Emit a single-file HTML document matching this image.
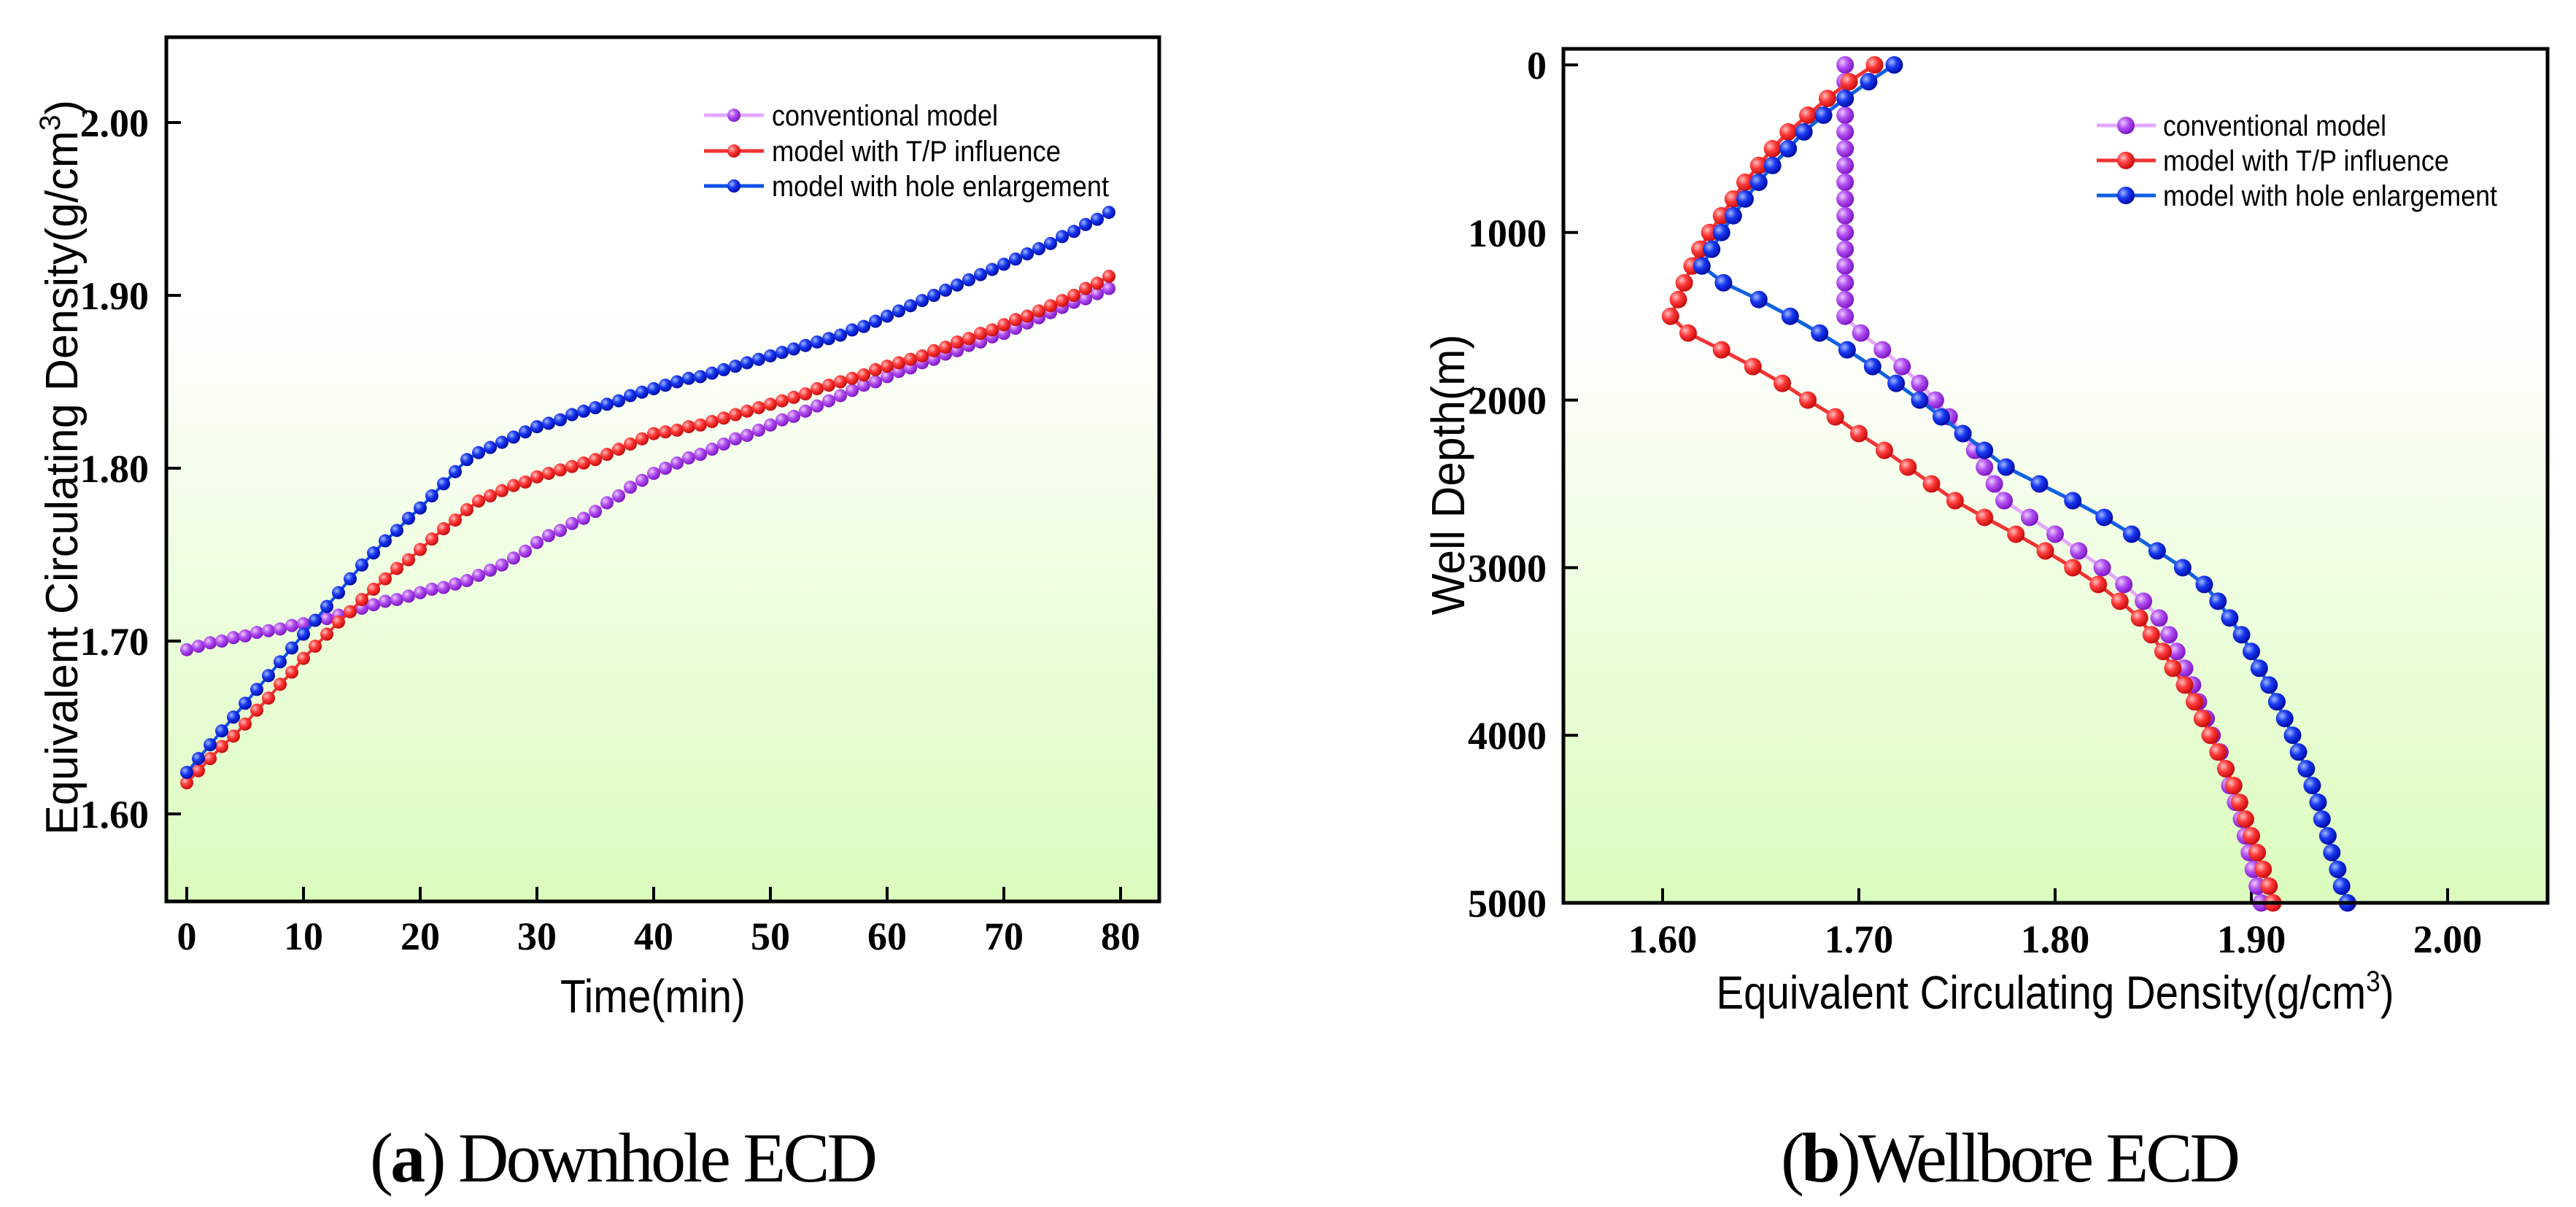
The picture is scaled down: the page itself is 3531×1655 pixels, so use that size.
<!DOCTYPE html>
<html><head><meta charset="utf-8"><style>
html,body{margin:0;padding:0;background:#fff;}
svg{display:block;}
</style></head><body>
<svg id="fig" width="3531" height="1655" viewBox="0 0 3531 1655" xmlns="http://www.w3.org/2000/svg">
<defs>
<linearGradient id="bg" x1="0" y1="0" x2="0" y2="1">
<stop offset="0" stop-color="#ffffff"/><stop offset="0.3" stop-color="#ffffff"/><stop offset="1" stop-color="#dbfcbd"/></linearGradient>
<radialGradient id="gP" cx="0.35" cy="0.35" r="0.7"><stop offset="0" stop-color="#f0c8ff"/><stop offset="0.45" stop-color="#b050f0"/><stop offset="1" stop-color="#7a10c0"/></radialGradient>
<radialGradient id="gR" cx="0.35" cy="0.35" r="0.7"><stop offset="0" stop-color="#ffc0c0"/><stop offset="0.45" stop-color="#ff3a3a"/><stop offset="1" stop-color="#c00808"/></radialGradient>
<radialGradient id="gB" cx="0.35" cy="0.35" r="0.7"><stop offset="0" stop-color="#a0b8ff"/><stop offset="0.45" stop-color="#1838f0"/><stop offset="1" stop-color="#0008a0"/></radialGradient>
</defs>
<g id="left"></g>
<g id="right"></g>
<text x="855" y="1620" text-anchor="middle" font-family="Liberation Serif, serif" font-size="96" textLength="696">(<tspan font-weight="bold">a</tspan>) Downhole ECD</text>
<text x="2756" y="1620" text-anchor="middle" font-family="Liberation Serif, serif" font-size="96" textLength="630">(<tspan font-weight="bold">b</tspan>)Wellbore ECD</text>
</svg>
<script>
// ---- Left chart data (time in min, ECD g/cm3)
const timeMin = Array.from({length:80},(_, i)=>i);
const leftXTicks = [0,10,20,30,40,50,60,70,80];
const leftYTicks = [1.60,1.70,1.80,1.90,2.00];
const ecdConventional = [1.695,1.697,1.699,1.700,1.702,1.703,1.705,1.706,1.707,1.709,1.710,
1.712,1.713,1.715,1.717,1.719,1.721,1.723,1.724,1.726,1.728,
1.730,1.731,1.733,1.735,1.738,1.741,1.744,1.748,1.752,1.757,
1.761,1.764,1.768,1.771,1.775,1.780,1.784,1.789,1.793,1.797,
1.800,1.803,1.806,1.808,1.811,1.814,1.817,1.819,1.822,1.825,
1.828,1.830,1.833,1.836,1.839,1.842,1.845,1.848,1.850,1.853,
1.856,1.858,1.861,1.863,1.866,1.868,1.871,1.873,1.876,1.878,
1.881,1.884,1.887,1.890,1.893,1.896,1.898,1.901,1.904];
const ecdTP = [1.618,1.625,1.632,1.639,1.645,1.652,1.660,1.667,1.675,1.682,1.690,
1.697,1.704,1.711,1.717,1.724,1.730,1.736,1.742,1.747,1.753,
1.759,1.765,1.770,1.776,1.781,1.784,1.787,1.790,1.792,1.795,
1.797,1.799,1.801,1.803,1.805,1.808,1.811,1.814,1.817,1.820,
1.821,1.822,1.824,1.825,1.827,1.829,1.831,1.833,1.835,1.837,
1.839,1.841,1.843,1.846,1.848,1.850,1.852,1.854,1.857,1.859,
1.861,1.863,1.865,1.868,1.870,1.873,1.875,1.878,1.880,1.883,
1.886,1.888,1.891,1.894,1.897,1.900,1.904,1.907,1.911];
const ecdHole = [1.624,1.632,1.640,1.648,1.656,1.664,1.672,1.680,1.688,1.696,1.704,
1.712,1.720,1.728,1.736,1.744,1.751,1.758,1.764,1.771,1.777,
1.784,1.791,1.798,1.805,1.809,1.812,1.815,1.818,1.821,1.824,
1.826,1.828,1.831,1.833,1.835,1.837,1.839,1.842,1.844,1.846,
1.848,1.850,1.852,1.853,1.855,1.857,1.859,1.861,1.863,1.865,
1.867,1.869,1.871,1.873,1.875,1.877,1.880,1.882,1.885,1.888,
1.891,1.894,1.897,1.900,1.903,1.906,1.909,1.912,1.915,1.918,
1.921,1.924,1.927,1.930,1.934,1.937,1.941,1.944,1.948];

// ---- Right chart data (depth m, ECD g/cm3)
const depthM = Array.from({length:51},(_, i)=>i*100);
const rightXTicks = [1.60,1.70,1.80,1.90,2.00];
const rightYTicks = [0,1000,2000,3000,4000,5000];
const wbConventional = [1.693,1.693,1.693,1.693,1.693,1.693,1.693,1.693,1.693,1.693,1.693,1.693,1.693,1.693,1.693,1.693,
1.701,1.712,1.722,1.731,1.739,1.746,1.753,1.759,1.764,1.769,1.774,1.787,1.800,1.812,1.824,
1.835,1.845,1.853,1.858,1.862,1.866,1.870,1.873,1.877,1.880,
1.884,1.887,1.889,1.892,1.895,1.897,1.899,1.901,1.903,1.905];
const wbTP = [1.708,1.695,1.684,1.674,1.664,1.656,1.649,1.642,1.636,1.630,1.624,
1.619,1.615,1.611,1.608,1.604,1.613,1.630,1.646,1.661,1.674,
1.688,1.700,1.713,1.725,1.737,1.749,1.764,1.780,1.795,1.809,
1.822,1.833,1.843,1.849,1.855,1.860,1.866,1.871,1.875,1.879,
1.883,1.887,1.891,1.894,1.897,1.900,1.903,1.906,1.909,1.911];
const wbHole = [1.718,1.705,1.693,1.682,1.672,1.664,1.656,1.649,1.642,1.636,1.630,
1.625,1.620,1.631,1.649,1.665,1.680,1.694,1.707,1.719,1.731,
1.742,1.753,1.764,1.775,1.792,1.809,1.825,1.839,1.852,1.865,
1.876,1.883,1.889,1.895,1.900,1.904,1.909,1.913,1.917,1.921,
1.924,1.928,1.931,1.934,1.936,1.939,1.941,1.944,1.946,1.949];

const NS='http://www.w3.org/2000/svg';
function mk(parent,tag,attrs,text){const e=document.createElementNS(NS,tag);for(const k in attrs)e.setAttribute(k,attrs[k]);if(text!==undefined)e.textContent=text;parent.appendChild(e);return e;}
const serif='Liberation Serif, serif', sans='Liberation Sans, Arial, sans-serif';

// ---------- LEFT ----------
(function(){
const g=document.getElementById('left');
const X0=228,X1=1589,Y0=51,Y1=1236;
const xs=t=>256+t*16.0;
const ys=v=>168+(2.00-v)*2370;
let r=mk(g,'rect',{x:X0,y:Y0,width:X1-X0,height:Y1-Y0,fill:'url(#bg)'});


leftXTicks.forEach(t=>{
 let l=mk(g,'line',{x1:xs(t),x2:xs(t),y1:Y1,y2:Y1-20,stroke:'#000','stroke-width':4});
 
 
 let tx=mk(g,'text',{x:xs(t),y:1302,'text-anchor':'middle','font-family':serif,'font-weight':'bold','font-size':54},String(t));
 
 
});
leftYTicks.forEach(v=>{
 let l=mk(g,'line',{x1:X0,x2:X0+20,y1:ys(v),y2:ys(v),stroke:'#000','stroke-width':4});
 
 
 let tx=mk(g,'text',{x:204,y:ys(v)+19,'text-anchor':'end','font-family':serif,'font-weight':'bold','font-size':54},v.toFixed(2));
 
 
});
const series=[[ecdConventional,'#e4a8ff','url(#gP)','conventional-series'],[ecdTP,'#f03434','url(#gR)','tp-influence-series'],[ecdHole,'#1050e8','url(#gB)','hole-enlargement-series']];
series.forEach(([arr,lc,fc,nm])=>{
 const sg=mk(g,'g',{});
 
 
 const pts=arr.map((v,i)=>xs(timeMin[i]).toFixed(1)+','+ys(v).toFixed(1)).join(' ');
 let pl=mk(sg,'polyline',{points:pts,fill:'none',stroke:lc,'stroke-width':4});
 
 
 arr.forEach((v,i)=>{
  let c=mk(sg,'circle',{cx:xs(timeMin[i]),cy:ys(v),r:9,fill:fc});
  
  
 });
});
let b=mk(g,'rect',{x:X0,y:Y0,width:X1-X0,height:Y1-Y0,fill:'none',stroke:'#000','stroke-width':5});


const leg=[['conventional model','#e4a8ff','url(#gP)',158,310],['model with T/P influence','#f03434','url(#gR)',207,396],['model with hole enlargement','#1050e8','url(#gB)',255,462]];
leg.forEach(([t,lc,fc,y,w])=>{
 const lg=mk(g,'g',{});
 
 
 mk(lg,'line',{x1:965,x2:1047,y1:y,y2:y,stroke:lc,'stroke-width':5});
 mk(lg,'circle',{cx:1006,cy:y,r:9,fill:fc});
 mk(lg,'text',{x:1058,y:y+14,'font-family':sans,'font-size':40,textLength:w,lengthAdjust:'spacingAndGlyphs'},t);
});
let xt=mk(g,'text',{x:895,y:1388,'text-anchor':'middle','font-family':sans,'font-size':64,textLength:254,lengthAdjust:'spacingAndGlyphs'},'Time(min)');


let yt=mk(g,'text',{x:0,y:0,transform:'translate(106,641) rotate(-90)','text-anchor':'middle','font-family':sans,'font-size':62,textLength:1008,lengthAdjust:'spacingAndGlyphs'});
yt.innerHTML='Equivalent Circulating Density(g/cm<tspan dy="-24" font-size="40">3</tspan><tspan dy="24">)</tspan>';


})();

// ---------- RIGHT ----------
(function(){
const g=document.getElementById('right');
const X0=2143,X1=3492,Y0=67,Y1=1238;
const xs=v=>2279+(v-1.60)*2690;
const ys=d=>89+d*0.2298;
let r=mk(g,'rect',{x:X0,y:Y0,width:X1-X0,height:Y1-Y0,fill:'url(#bg)'});


rightXTicks.forEach(v=>{
 let l=mk(g,'line',{x1:xs(v),x2:xs(v),y1:Y1,y2:Y1-20,stroke:'#000','stroke-width':4});
 
 
 let tx=mk(g,'text',{x:xs(v),y:1306,'text-anchor':'middle','font-family':serif,'font-weight':'bold','font-size':54},v.toFixed(2));
 
 
});
rightYTicks.forEach(d=>{
 let l=mk(g,'line',{x1:X0,x2:X0+20,y1:ys(d),y2:ys(d),stroke:'#000','stroke-width':4});
 
 
 let tx=mk(g,'text',{x:2120,y:ys(d)+19,'text-anchor':'end','font-family':serif,'font-weight':'bold','font-size':54},String(d));
 
 
});
const series=[[wbConventional,'#e4a8ff','url(#gP)','conventional-series'],[wbTP,'#f03434','url(#gR)','tp-influence-series'],[wbHole,'#1060e0','url(#gB)','hole-enlargement-series']];
series.forEach(([arr,lc,fc,nm])=>{
 const sg=mk(g,'g',{});
 
 
 const pts=arr.map((v,i)=>xs(v).toFixed(1)+','+ys(depthM[i]).toFixed(1)).join(' ');
 let pl=mk(sg,'polyline',{points:pts,fill:'none',stroke:lc,'stroke-width':5});
 
 
 arr.forEach((v,i)=>{
  let c=mk(sg,'circle',{cx:xs(v),cy:ys(depthM[i]),r:12,fill:fc});
  
  
 });
});
let b=mk(g,'rect',{x:X0,y:Y0,width:X1-X0,height:Y1-Y0,fill:'none',stroke:'#000','stroke-width':5});


const leg=[['conventional model','#e4a8ff','url(#gP)',172,306],['model with T/P influence','#f03434','url(#gR)',220,392],['model with hole enlargement','#1060e0','url(#gB)',268,458]];
leg.forEach(([t,lc,fc,y,w])=>{
 const lg=mk(g,'g',{});
 
 
 mk(lg,'line',{x1:2874,x2:2955,y1:y,y2:y,stroke:lc,'stroke-width':5});
 mk(lg,'circle',{cx:2914,cy:y,r:12,fill:fc});
 mk(lg,'text',{x:2965,y:y+14,'font-family':sans,'font-size':40,textLength:w,lengthAdjust:'spacingAndGlyphs'},t);
});
let xt=mk(g,'text',{x:2817,y:1383,'text-anchor':'middle','font-family':sans,'font-size':64,textLength:929,lengthAdjust:'spacingAndGlyphs'});
xt.innerHTML='Equivalent Circulating Density(g/cm<tspan dy="-24" font-size="40">3</tspan><tspan dy="24">)</tspan>';


let yt=mk(g,'text',{x:0,y:0,transform:'translate(2007,651) rotate(-90)','text-anchor':'middle','font-family':sans,'font-size':64,textLength:385,lengthAdjust:'spacingAndGlyphs'},'Well Depth(m)');


})();
</script>
</body></html>
